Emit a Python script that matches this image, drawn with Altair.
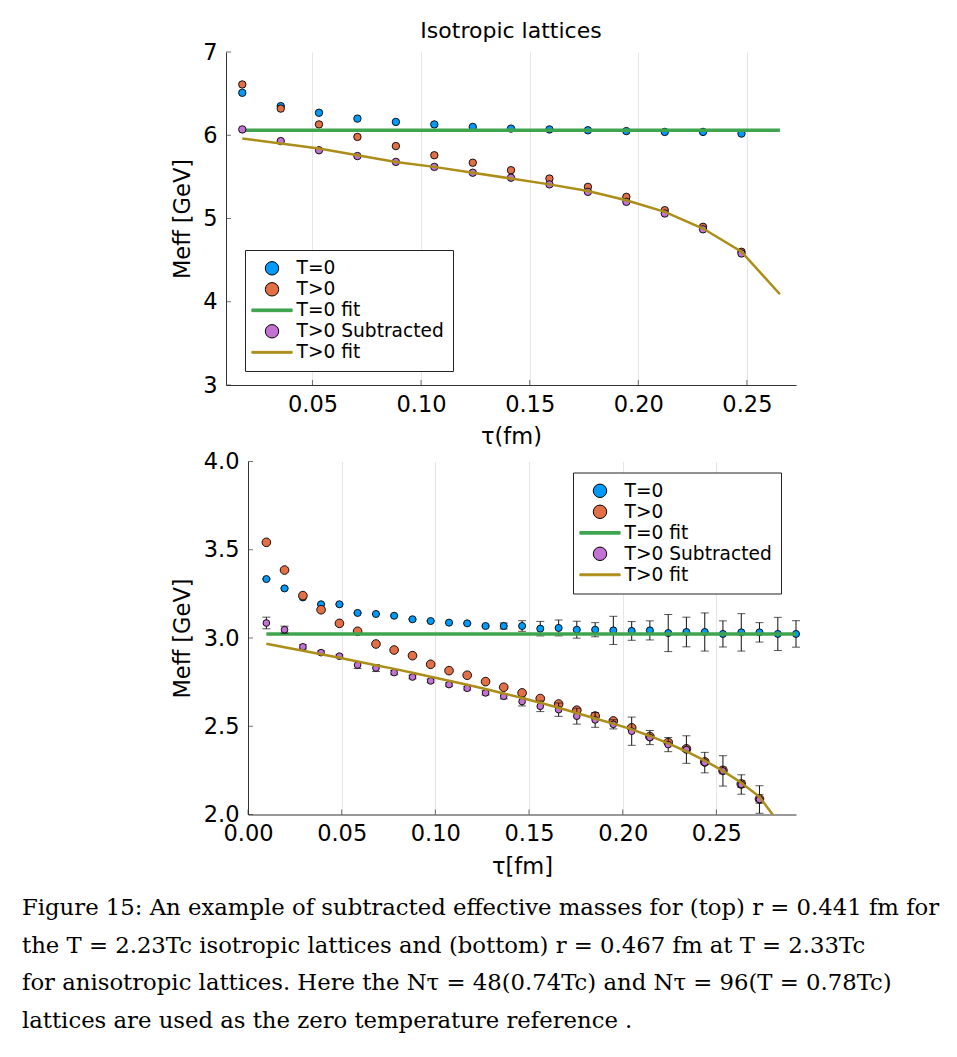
import altair as alt
import pandas as pd

# ---- series styling shared by both panels ----
SERIES = ["T=0", "T>0", "T=0 fit", "T>0 Subtracted", "T>0 fit"]
FILLS = ["#009AFA", "#E36F47", "#3EA44E", "#C371D2", "#AC8D18"]
EDGES = ["black", "black", "#3EA44E", "black", "#AC8D18"]
SHAPES = ["circle", "circle", "M-3,-0.2H3V0.2H-3Z", "circle", "M-3,-0.14H3V0.14H-3Z"]

FONT = "DejaVu Sans"

# ---- top panel: isotropic lattices ----
tau_top = [0.0177, 0.0354, 0.0530, 0.0707, 0.0884, 0.1061, 0.1238,
           0.1414, 0.1591, 0.1768, 0.1945, 0.2122, 0.2298, 0.2475]
tau_top_fit = tau_top + [0.2652]
m0_top = [6.51, 6.35, 6.27, 6.20, 6.16, 6.13, 6.10, 6.08, 6.07, 6.06, 6.05, 6.04, 6.04, 6.02]
mT_top = [6.61, 6.32, 6.13, 5.98, 5.87, 5.76, 5.67, 5.58, 5.48, 5.38, 5.26, 5.10, 4.90, 4.60]
msub_top = [6.07, 5.93, 5.82, 5.75, 5.68, 5.62, 5.55, 5.49, 5.41, 5.32, 5.20, 5.06, 4.87, 4.58]
fit0_top = [6.06] * 15
fitT_top = [5.96, 5.90, 5.84, 5.76, 5.68, 5.62, 5.55, 5.48, 5.41, 5.33, 5.22, 5.08, 4.88, 4.60, 4.09]

# ---- bottom panel: anisotropic lattices ----
tau_bot = [0.0098, 0.0195, 0.0293, 0.0390, 0.0488, 0.0585, 0.0683, 0.0780, 0.0878, 0.0975,
           0.1073, 0.1170, 0.1268, 0.1365, 0.1463, 0.1560, 0.1658, 0.1755, 0.1853, 0.1950,
           0.2048, 0.2145, 0.2243, 0.2340, 0.2438, 0.2535, 0.2633, 0.2730, 0.2828, 0.2925]
m0_bot = [3.334, 3.281, 3.230, 3.191, 3.191, 3.142, 3.136, 3.126, 3.106, 3.096,
          3.087, 3.083, 3.068, 3.068, 3.068, 3.053, 3.057, 3.047, 3.047, 3.043,
          3.040, 3.043, 3.028, 3.034, 3.034, 3.023, 3.032, 3.032, 3.023, 3.023]
e0_bot = [0.003, 0.003, 0.003, 0.003, 0.003, 0.003, 0.003, 0.003, 0.003, 0.003,
          0.003, 0.003, 0.005, 0.017, 0.030, 0.041, 0.045, 0.048, 0.040, 0.080,
          0.053, 0.054, 0.105, 0.084, 0.108, 0.074, 0.106, 0.055, 0.094, 0.075]
mT_bot = [3.542, 3.385, 3.240, 3.160, 3.083, 3.038, 2.966, 2.932, 2.900, 2.851,
          2.815, 2.789, 2.753, 2.721, 2.689, 2.657, 2.626, 2.591, 2.558, 2.530,
          2.491, 2.442, 2.408, 2.372, 2.298, 2.250, 2.173, 2.088]
eT_bot = [0.004, 0.003, 0.003, 0.003, 0.003, 0.003, 0.003, 0.003, 0.003, 0.003,
          0.003, 0.003, 0.004, 0.004, 0.005, 0.006, 0.007, 0.008, 0.008, 0.009,
          0.010, 0.010, 0.012, 0.014, 0.015, 0.018, 0.020, 0.024]
msub_bot = [3.085, 3.047, 2.950, 2.917, 2.897, 2.847, 2.830, 2.804, 2.779, 2.757,
            2.736, 2.715, 2.689, 2.670, 2.640, 2.613, 2.594, 2.557, 2.536, 2.511,
            2.472, 2.436, 2.396, 2.368, 2.294, 2.247, 2.170, 2.085]
esub_bot = [0.033, 0.020, 0.012, 0.010, 0.008, 0.020, 0.020, 0.012, 0.010, 0.010,
            0.010, 0.010, 0.012, 0.015, 0.025, 0.030, 0.038, 0.045, 0.042, 0.026,
            0.080, 0.040, 0.040, 0.078, 0.058, 0.086, 0.055, 0.078]
fit0_bot = [3.023] * 30
fitT_bot = [2.968, 2.948, 2.928, 2.908, 2.888, 2.867, 2.846, 2.825, 2.803, 2.781,
            2.758, 2.735, 2.711, 2.686, 2.660, 2.633, 2.605, 2.575, 2.544, 2.515,
            2.482, 2.445, 2.403, 2.357, 2.305, 2.247, 2.180, 2.100, 1.960]

caption = [
    "Figure 15: An example of subtracted effective masses for (top) r = 0.441 fm for",
    "the T = 2.23Tc isotropic lattices and (bottom) r = 0.467 fm at T = 2.33Tc",
    "for anisotropic lattices. Here the Nτ = 48(0.74Tc) and Nτ = 96(T = 0.78Tc)",
    "lattices are used as the zero temperature reference .",
]

INDEP = dict(x="independent", y="independent",
             fill="independent", shape="independent", stroke="independent")
INDEP_LEG = dict(fill="independent", shape="independent", stroke="independent")


def frame(series, tau, m, err=None):
    df = pd.DataFrame({"series": series, "tau": tau[:len(m)], "m": m})
    if err is not None:
        df["lo"] = [v - e for v, e in zip(m, err)]
        df["hi"] = [v + e for v, e in zip(m, err)]
    return df


def panel(x_dom, y_dom, x_ticks, y_ticks, x_fmt, y_fmt, x_title, width, height,
          legend_xy, pts, lines, sizes, green_w):
    xs = alt.Scale(domain=x_dom, nice=False, zero=False)
    ys = alt.Scale(domain=y_dom, nice=False, zero=False)
    xaxis = alt.Axis(values=x_ticks, format=x_fmt, title=x_title, ticks=False,
                     labelFlush=False, labelOverlap=False, labelPadding=8, titlePadding=10)
    yaxis = alt.Axis(values=y_ticks, format=y_fmt, title="Meff [GeV]", ticks=False,
                     labelFlush=False, labelOverlap=False, labelPadding=9, titlePadding=8.5)
    X = alt.X("tau:Q", scale=xs, axis=xaxis)
    Y = alt.Y("m:Q", scale=ys, axis=yaxis)
    leg = alt.Legend(title=None, orient="none", legendX=legend_xy[0], legendY=legend_xy[1])
    fill = alt.Fill("series:N", scale=alt.Scale(domain=SERIES, range=FILLS), legend=leg)
    shape = alt.Shape("series:N", scale=alt.Scale(domain=SERIES, range=SHAPES), legend=leg)
    stroke = alt.Stroke("series:N", scale=alt.Scale(domain=SERIES, range=EDGES), legend=leg)

    layers = []
    # short tick marks drawn on the inner side of both axes
    layers.append(alt.Chart(pd.DataFrame({"tau": x_ticks})).mark_tick(
        orient="vertical", size=5, thickness=1, color="#333", yOffset=-2.5
    ).encode(x=X, y=alt.YDatum(y_dom[0], scale=ys, axis=yaxis)))
    layers.append(alt.Chart(pd.DataFrame({"m": y_ticks})).mark_tick(
        orient="horizontal", size=5, thickness=1, color="#333", xOffset=2.5
    ).encode(y=Y, x=alt.XDatum(x_dom[0], scale=xs, axis=xaxis)))

    order = ["T=0", "T>0", "T=0 fit", "T>0 Subtracted", "T>0 fit"]
    for name in order:
        if name in lines:
            w = green_w if name == "T=0 fit" else 2.5
            layers.append(alt.Chart(lines[name]).mark_line(strokeWidth=w, clip=True)
                          .encode(x=X, y=Y, stroke=stroke))
        else:
            df = pts[name]
            if "lo" in df.columns:
                base = alt.Chart(df)
                layers.append(base.mark_rule(color="#111", strokeWidth=1)
                              .encode(x=X, y=alt.Y("lo:Q", scale=ys, axis=yaxis), y2="hi:Q"))
                layers.append(base.mark_tick(orient="horizontal", size=8, thickness=1, color="#111")
                              .encode(x=X, y=alt.Y("lo:Q", scale=ys, axis=yaxis)))
                layers.append(base.mark_tick(orient="horizontal", size=8, thickness=1, color="#111")
                              .encode(x=X, y=alt.Y("hi:Q", scale=ys, axis=yaxis)))
            layers.append(alt.Chart(df).mark_point(
                filled=True, opacity=1, stroke="black", strokeWidth=0.9, size=sizes[name]
            ).encode(x=X, y=Y, fill=fill, shape=shape))
    return alt.layer(*layers).properties(width=width, height=height)


top = panel(
    [0.0102, 0.2726], [3, 7], [0.05, 0.10, 0.15, 0.20, 0.25], [3, 4, 5, 6, 7],
    ".2f", ".0f", "τ(fm)", 570, 333, (19, 198),
    {
        "T=0": frame("T=0", tau_top, m0_top),
        "T>0": frame("T>0", tau_top, mT_top),
        "T>0 Subtracted": frame("T>0 Subtracted", tau_top, msub_top),
    },
    {
        "T=0 fit": frame("T=0 fit", tau_top_fit, fit0_top),
        "T>0 fit": frame("T>0 fit", tau_top_fit, fitT_top),
    },
    {"T=0": 55, "T>0": 55, "T>0 Subtracted": 55}, 3.5,
).properties(title=alt.TitleParams("Isotropic lattices", fontSize=22, fontWeight="normal",
                                   font=FONT, offset=-2))

bottom = panel(
    [0.0, 0.2925], [2.0, 4.0], [0.0, 0.05, 0.10, 0.15, 0.20, 0.25], [2.0, 2.5, 3.0, 3.5, 4.0],
    ".2f", ".1f", "τ[fm]", 548, 353, (325, 11),
    {
        "T=0": frame("T=0", tau_bot, m0_bot, e0_bot),
        "T>0": frame("T>0", tau_bot, mT_bot, eT_bot),
        "T>0 Subtracted": frame("T>0 Subtracted", tau_bot, msub_bot, esub_bot),
    },
    {
        "T=0 fit": frame("T=0 fit", tau_bot, fit0_bot),
        "T>0 fit": frame("T>0 fit", tau_bot, fitT_bot),
    },
    {"T=0": 50, "T>0": 75, "T>0 Subtracted": 45}, 3.5,
)


def row(panel_chart):
    # a 1px empty lead-in keeps each row aligned by its left edge (axis titles line up)
    lead = alt.Chart(pd.DataFrame({"v": [0]})).mark_point(opacity=0, size=0).encode(
        x=alt.X("v:Q", axis=None), y=alt.Y("v:Q", axis=None)
    ).properties(width=1, height=1)
    return alt.hconcat(lead, panel_chart, spacing=0).resolve_scale(**INDEP).resolve_legend(**INDEP_LEG)


chart = alt.vconcat(row(top), row(bottom), spacing=2.5).resolve_scale(**INDEP).resolve_legend(
    **INDEP_LEG
).properties(
    title=alt.TitleParams(caption, orient="bottom", anchor="start", font="DejaVu Serif",
                          fontSize=22.75, fontWeight="normal", lineHeight=37.7, offset=19.5,
                          dx=-148, color="black"),
    padding={"left": 22, "top": 20, "right": 5, "bottom": 5},
).configure_axis(
    labelFont=FONT, titleFont=FONT, labelFontSize=22.5, titleFontSize=22.5,
    labelColor="black", titleColor="black", titleFontWeight="normal",
    gridColor="#e6e6e6", gridWidth=1, domainColor="#333", domainWidth=1,
).configure_legend(
    labelFont=FONT, labelFontSize=18.6, labelColor="black", symbolSize=180,
    symbolStrokeWidth=1, padding=9, strokeColor="#222", fillColor="white",
    labelOffset=15.3, symbolOffset=8.7, rowPadding=2, cornerRadius=0,
).configure_view(strokeWidth=0)

chart.save("out.html", embed_options={"renderer": "svg", "actions": False})
